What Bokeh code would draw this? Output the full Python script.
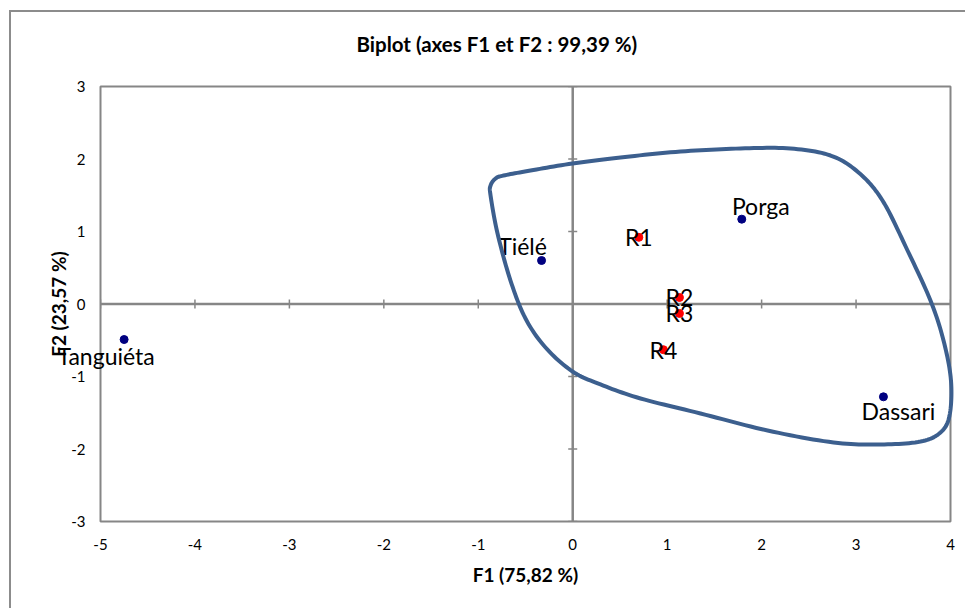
import numpy as np
from bokeh.plotting import figure
from bokeh.models import Range1d, FixedTicker, Span, Label, Title
from bokeh.embed import file_html
from bokeh.resources import INLINE

# ---- data ----
site_names = ["Tanguiéta", "Tiélé", "Porga", "Dassari"]
site_f1 = [-4.75, -0.33, 1.79, 3.29]
site_f2 = [-0.49, 0.60, 1.17, -1.28]

var_names = ["R1", "R2", "R3", "R4"]
var_f1 = [0.70, 1.13, 1.13, 0.96]
var_f2 = [0.92, 0.09, -0.13, -0.63]

x_ticks = [-5, -4, -3, -2, -1, 0, 1, 2, 3, 4]
x_tick_labels = ["-5", "-4", "-3", "-2", "-1", "0", "1", "2", "3", "4"]
y_ticks = [-3, -2, -1, 0, 1, 2, 3]
y_tick_labels = ["-3", "-2", "-1", "0", "1", "2", "3"]

# hand-drawn enclosing curve (traced control points, data units)
curve_x = [-0.733, -0.447, -0.002, 0.506, 1.142, 1.777, 2.306, 2.730, 3.026, 3.280,
           3.545, 3.788, 3.926, 4.005, 3.990, 3.894, 3.683, 3.260, 2.762, 2.063,
           1.353, 0.718, 0.294, -0.002, -0.288, -0.500, -0.659, -0.796, -0.870,
           -0.870, -0.817]
curve_y = [1.772, 1.841, 1.938, 2.021, 2.103, 2.145, 2.145, 2.048, 1.814, 1.428,
           0.738, 0.048, -0.503, -1.055, -1.538, -1.772, -1.897, -1.938, -1.910, -1.745,
           -1.510, -1.303, -1.110, -0.931, -0.600, -0.200, 0.324, 0.972, 1.497,
           1.634, 1.731]

# label placement (screen px offsets, y upward)
site_dx = [-18, -19, 19, 15]
site_dy = [-16, 15, 13, -14]

GRAY = "#868686"
FONT = "Lato"


def closed_spline(xs, ys, n=12):
    """Smooth a closed hand-drawn outline (Catmull-Rom) for drawing."""
    P = np.column_stack([xs, ys])
    m = len(P)
    out = []
    for i in range(m):
        p0, p1, p2, p3 = P[(i - 1) % m], P[i], P[(i + 1) % m], P[(i + 2) % m]
        for t in np.linspace(0, 1, n, endpoint=False):
            t2, t3 = t * t, t * t * t
            out.append(0.5 * ((2 * p1) + (-p0 + p2) * t + (2 * p0 - 5 * p1 + 4 * p2 - p3) * t2
                              + (-p0 + 3 * p1 - 3 * p2 + p3) * t3))
    out.append(out[0])
    out = np.array(out)
    return out[:, 0], out[:, 1]


p = figure(width=956, height=598, output_backend="svg", toolbar_location=None,
           x_range=Range1d(-5, 4), y_range=Range1d(-3, 3),
           min_border_left=89, min_border_right=17, min_border_top=74, min_border_bottom=89,
           styles={"margin-left": "9px", "margin-top": "10px",
                   "border-left": "2px solid #8C8C8C", "border-top": "2px solid #8C8C8C"})

p.title.text = "Biplot (axes F1 et F2 : 99,39 %)"
p.title.text_font = FONT
p.title.text_font_size = "20.5px"
p.title.text_font_style = "bold"
p.title.text_color = "#000000"
p.title.align = "left"
p.title.offset = 256
p.title.standoff = 0
# blank spacer between the title and the plot area
p.add_layout(Title(text=" ", text_font_size="1px", standoff=0), "above")

p.grid.visible = False
p.outline_line_color = GRAY
p.outline_line_width = 2
p.background_fill_color = "white"
p.border_fill_color = "white"

for ax, ticks, labels in ((p.xaxis[0], x_ticks, x_tick_labels), (p.yaxis[0], y_ticks, y_tick_labels)):
    ax.ticker = FixedTicker(ticks=ticks)
    ax.major_label_overrides = {t: l for t, l in zip(ticks, labels)}
    ax.axis_line_color = None
    ax.major_tick_line_color = None
    ax.minor_tick_line_color = None
    ax.major_tick_in = 0
    ax.major_tick_out = 0
    ax.major_label_text_font = FONT
    ax.major_label_text_font_size = "15px"
    ax.major_label_text_color = "#000000"
    ax.axis_label_text_font = FONT
    ax.axis_label_text_font_size = "19px"
    ax.axis_label_text_font_style = "bold"
    ax.axis_label_text_color = "#000000"

p.xaxis.axis_label = "F1 (75,82 %)"
p.yaxis.axis_label = "F2 (23,57 %)"
p.xaxis.major_label_standoff = 17
p.yaxis.major_label_standoff = 15
p.xaxis.axis_label_standoff = 10
p.yaxis.axis_label_standoff = -2

# axes through origin
p.add_layout(Span(location=0, dimension="width", line_color=GRAY, line_width=2.5, level="underlay"))
p.add_layout(Span(location=0, dimension="height", line_color=GRAY, line_width=2.5, level="underlay"))

# cross ticks on the origin axes
p.scatter(x=x_ticks, y=[0] * len(x_ticks), marker="dash", angle=np.pi / 2, size=9,
          line_color=GRAY, line_width=1.5, level="underlay")
p.scatter(x=[0] * len(y_ticks), y=y_ticks, marker="dash", size=9,
          line_color=GRAY, line_width=1.5, level="underlay")

# points
p.scatter(site_f1, site_f2, size=8, fill_color="#000080", line_color="#000080")
p.scatter(var_f1, var_f2, size=8, fill_color="#FF0000", line_color="#FF0000")

# labels; one that overflows the plot area goes in a side panel so it is not clipped
for name, x, y, dx, dy in zip(site_names, site_f1, site_f2, site_dx, site_dy):
    lab = Label(x=x, y=y, text=name, x_offset=dx, y_offset=dy,
                text_font=FONT, text_font_size="23px", text_align="center",
                text_baseline="middle", text_color="#000000")
    overflows = x < x_ticks[0] + 0.5
    if overflows:
        p.add_layout(lab, "above")
    else:
        p.add_layout(lab)
for name, x, y in zip(var_names, var_f1, var_f2):
    p.add_layout(Label(x=x, y=y, text=name,
                       text_font=FONT, text_font_size="23px", text_align="center",
                       text_baseline="middle", text_color="#000000"))

# enclosing curve
cx, cy = closed_spline(curve_x, curve_y)
p.line(cx, cy, line_color="#3C5F8E", line_width=4, line_join="round", level="overlay")

open("out.html", "w").write(file_html(p, INLINE))
